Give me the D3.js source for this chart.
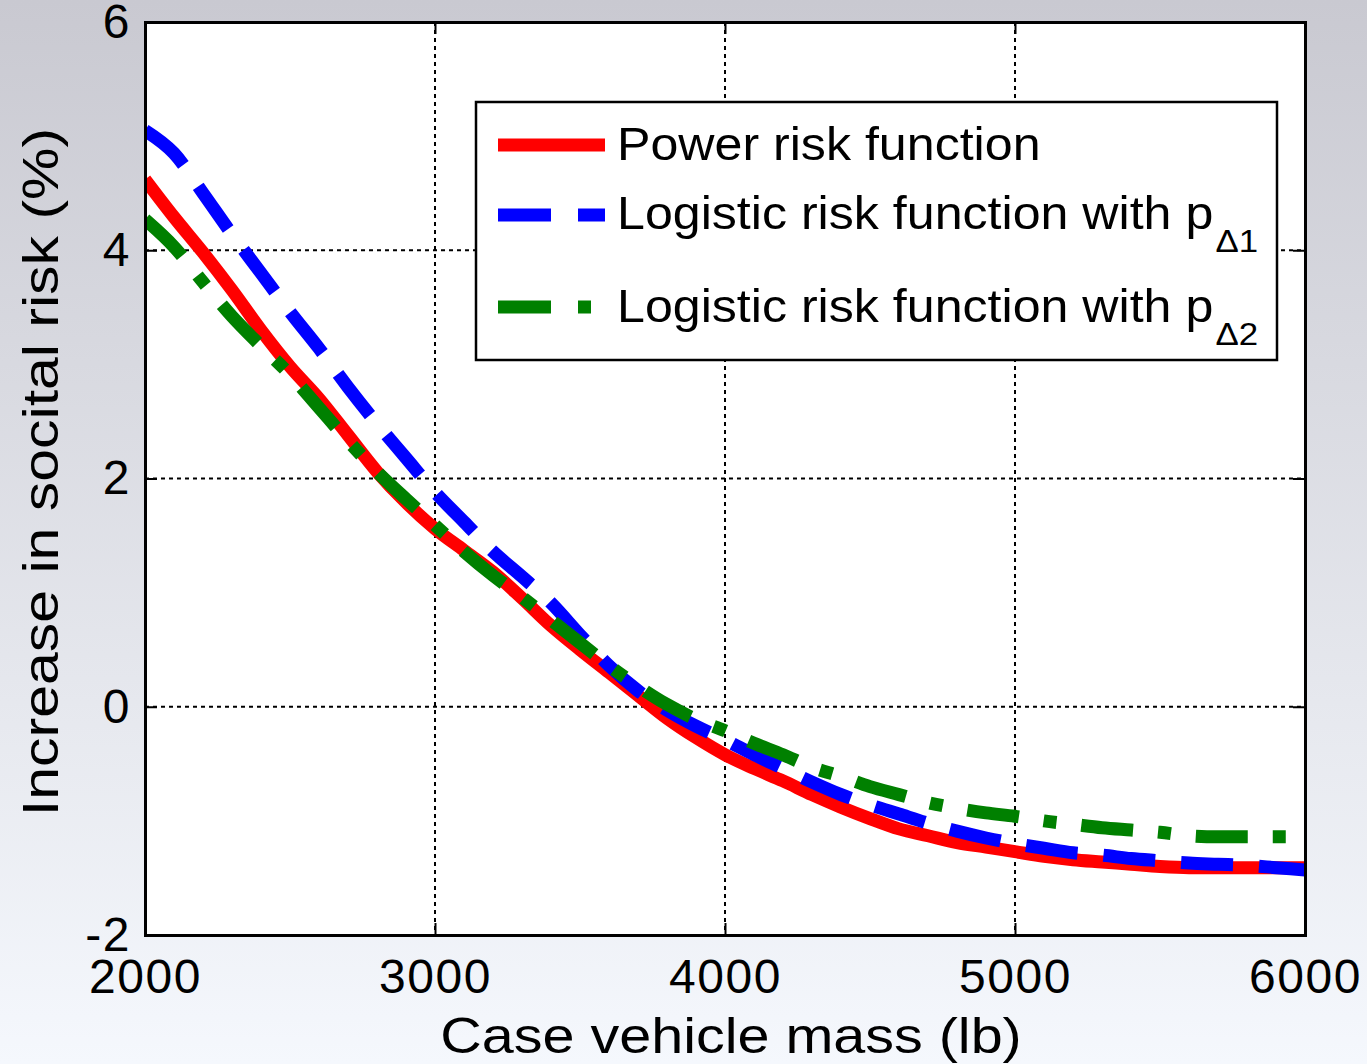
<!DOCTYPE html>
<html>
<head>
<meta charset="utf-8">
<script src="https://cdn.jsdelivr.net/npm/d3@7"></script>
<style>
  html, body { margin: 0; padding: 0; }
  svg { display: block; }
  text { font-family: "Liberation Sans", Arial, sans-serif; fill: #000; }
</style>
</head>
<body>
<script>
// Case vehicle mass (lb) sampled every 100 lb
const mass = d3.range(2000, 6001, 100);

// Increase in societal risk (%) for each risk model
const powerRisk = [4.62, 4.29, 3.98, 3.65, 3.30, 2.98, 2.70, 2.38, 2.06, 1.79, 1.56,
  1.37, 1.18, 0.95, 0.71, 0.50, 0.30, 0.10, -0.10, -0.27, -0.42, -0.54, -0.65, -0.77,
  -0.88, -0.98, -1.07, -1.13, -1.19, -1.23, -1.27, -1.31, -1.34, -1.36, -1.38, -1.40,
  -1.41, -1.41, -1.41, -1.41, -1.41];
const logisticP1 = [5.05, 4.85, 4.50, 4.14, 3.80, 3.46, 3.14, 2.80, 2.48, 2.18, 1.88,
  1.62, 1.36, 1.14, 0.91, 0.63, 0.36, 0.14, -0.03, -0.17, -0.29, -0.42, -0.54, -0.66,
  -0.77, -0.86, -0.94, -1.02, -1.09, -1.15, -1.20, -1.24, -1.28, -1.30, -1.33, -1.35,
  -1.37, -1.38, -1.39, -1.41, -1.43];
const logisticP2 = [4.27, 4.03, 3.72, 3.42, 3.16, 2.91, 2.62, 2.33, 2.06, 1.82, 1.59,
  1.36, 1.15, 0.96, 0.76, 0.56, 0.36, 0.18, 0.02, -0.11, -0.21, -0.32, -0.42, -0.53,
  -0.61, -0.70, -0.77, -0.84, -0.89, -0.93, -0.96, -1.00, -1.03, -1.06, -1.08, -1.10,
  -1.13, -1.14, -1.14, -1.14, -1.14];

const xTicks = [2000, 3000, 4000, 5000, 6000];
const yTicks = [-2, 0, 2, 4, 6];
const yTickLabels = ["-2", "0", "2", "4", "6"];

const seriesNames = ["Power risk function", "Logistic risk function with p", "Logistic risk function with p"];
const seriesSubs = ["", "\u03941", "\u03942"];
const seriesColors = ["#ff0000", "#0000ff", "#008000"];
const seriesDash = [null, "52,26", "52,25,13,25"];
const seriesValues = [powerRisk, logisticP1, logisticP2];

const W = 1367, H = 1064;
const margin = { left: 145, right: 62, top: 22, bottom: 129 };

const svg = d3.select("body").append("svg").attr("width", W).attr("height", H);

// figure background gradient
const defs = svg.append("defs");
const grad = defs.append("linearGradient").attr("id", "bg").attr("x1", 0).attr("y1", 0).attr("x2", 0).attr("y2", 1);
grad.append("stop").attr("offset", "0%").attr("stop-color", "#c9c9d1");
grad.append("stop").attr("offset", "100%").attr("stop-color", "#f5f8fd");
svg.append("rect").attr("width", W).attr("height", H).attr("fill", "url(#bg)");

const x = d3.scaleLinear().domain([2000, 6000]).range([margin.left, W - margin.right]);
const y = d3.scaleLinear().domain([-2, 6]).range([H - margin.bottom, margin.top]);

// plot area
svg.append("rect")
  .attr("x", x(2000)).attr("y", y(6))
  .attr("width", x(6000) - x(2000)).attr("height", y(-2) - y(6))
  .attr("fill", "#fff");

// dotted grid
const grid = svg.append("g").attr("stroke", "#000").attr("stroke-width", 2).attr("stroke-dasharray", "4,4");
grid.selectAll("line.gx").data(xTicks.slice(1, -1)).join("line")
  .attr("x1", d => x(d)).attr("x2", d => x(d)).attr("y1", y(6)).attr("y2", y(-2));
grid.selectAll("line.gy").data(yTicks.slice(1, -1)).join("line")
  .attr("y1", d => y(d)).attr("y2", d => y(d)).attr("x1", x(2000)).attr("x2", x(6000));

// curves
const line = d3.line().x((d, i) => x(mass[i])).y(d => y(d)).curve(d3.curveMonotoneX);
const clip = defs.append("clipPath").attr("id", "plotclip");
clip.append("rect").attr("x", x(2000)).attr("y", y(6)).attr("width", x(6000) - x(2000)).attr("height", y(-2) - y(6));

const curves = svg.append("g").attr("clip-path", "url(#plotclip)");
seriesValues.forEach((vals, k) => {
  curves.append("path")
    .attr("d", line(vals))
    .attr("fill", "none")
    .attr("stroke", seriesColors[k])
    .attr("stroke-width", 13)
    .attr("stroke-linejoin", "round")
    .attr("stroke-dasharray", seriesDash[k]);
});

// axes (ticks point inward, labels outside)
const tickLen = 12;
const xAxisB = d3.axisBottom(x).tickValues(xTicks).tickSize(-tickLen).tickPadding(24).tickFormat(d3.format("d"));
const yAxisL = d3.axisLeft(y).tickValues(yTicks).tickSize(-tickLen).tickPadding(14)
  .tickFormat((d, i) => yTickLabels[i]);
const xAxisT = d3.axisTop(x).tickValues(xTicks).tickSize(-tickLen).tickFormat("");
const yAxisR = d3.axisRight(y).tickValues(yTicks).tickSize(-tickLen).tickFormat("");

function styleAxis(g) {
  g.select(".domain").attr("stroke", "#000").attr("stroke-width", 3);
  g.selectAll(".tick line").attr("stroke", "#000").attr("stroke-width", 2);
  g.selectAll(".tick text").attr("font-size", 48).attr("letter-spacing", 1.5)
    .attr("font-family", "Liberation Sans, Arial, sans-serif");
}
svg.append("g").attr("transform", `translate(0,${y(-2)})`).call(xAxisB).call(styleAxis);
svg.append("g").attr("transform", `translate(${x(2000)},0)`).call(yAxisL).call(styleAxis);
svg.append("g").attr("transform", `translate(0,${y(6)})`).call(xAxisT).call(styleAxis);
svg.append("g").attr("transform", `translate(${x(6000)},0)`).call(yAxisR).call(styleAxis);

// axis titles (wide sans face, stretched horizontally)
svg.append("text")
  .attr("transform", "translate(731,1053) scale(1.15,1)")
  .attr("text-anchor", "middle").attr("font-size", 50)
  .text("Case vehicle mass (lb)");
svg.append("text")
  .attr("transform", "translate(58,472) rotate(-90) scale(1.18,1)")
  .attr("text-anchor", "middle").attr("font-size", 50)
  .text("Increase in socital risk (%)");

// legend
const lg = svg.append("g");
lg.append("rect")
  .attr("x", 476).attr("y", 102).attr("width", 801).attr("height", 258)
  .attr("fill", "#fff").attr("stroke", "#000").attr("stroke-width", 2.5);
const rowY = [145, 215, 307];
const baseY = [160, 229, 322];
seriesNames.forEach((name, k) => {
  lg.append("line")
    .attr("x1", 498).attr("x2", 605).attr("y1", rowY[k]).attr("y2", rowY[k])
    .attr("stroke", seriesColors[k]).attr("stroke-width", 13)
    .attr("stroke-dasharray", seriesDash[k] ? (k === 1 ? "53,27,27,27" : "53,27,13,27") : null);
  const t = lg.append("text")
    .attr("transform", `translate(617,${baseY[k]}) scale(1.09,1)`)
    .attr("font-size", 46);
  t.append("tspan").text(name);
  if (seriesSubs[k]) {
    t.append("tspan").attr("dx", 2).attr("dy", 23).attr("font-size", 32).text(seriesSubs[k]);
  }
});
</script>
</body>
</html>
